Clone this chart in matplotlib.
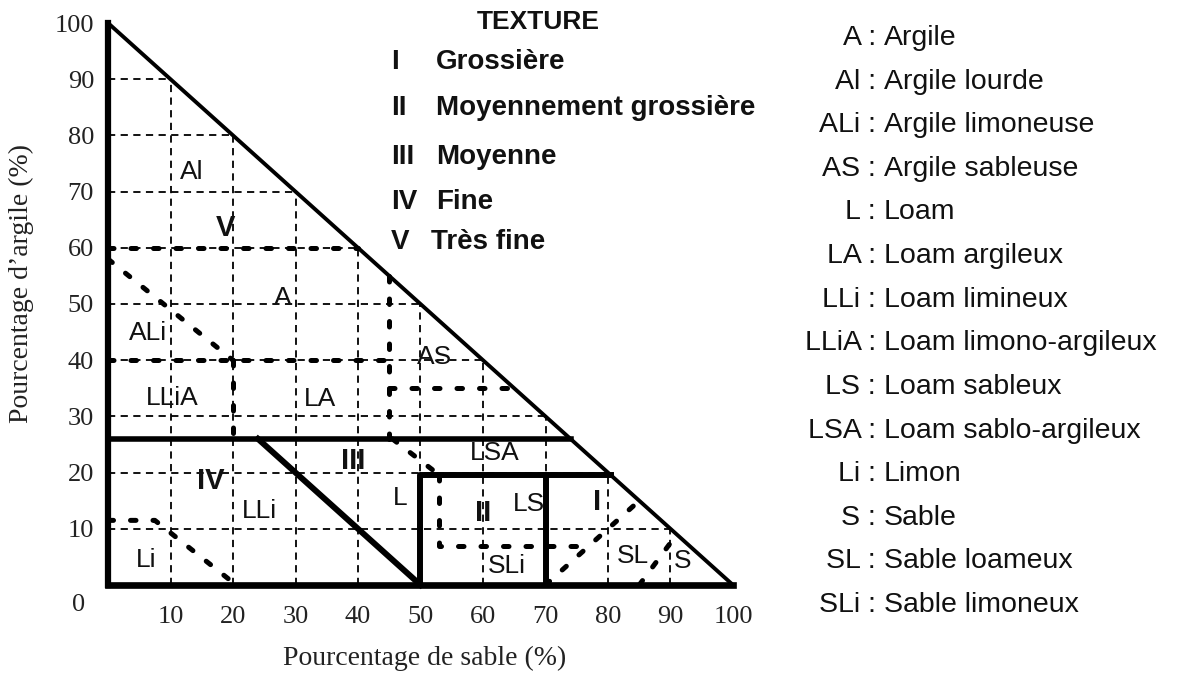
import matplotlib.pyplot as plt

W, H = 1194, 675

# axes ticks
sand_ticks = [10, 20, 30, 40, 50, 60, 70, 80, 90, 100]
clay_ticks = [10, 20, 30, 40, 50, 60, 70, 80, 90, 100]
grid_steps = [10, 20, 30, 40, 50, 60, 70, 80, 90]

# thick solid limits (sand %, clay %)
edge_sand = [0, 0, 100, 0]
edge_clay = [100, 0, 0, 100]
fine_sand = [0, 74]
fine_clay = [26, 26]
medium_sand = [24, 50]
medium_clay = [26, 0]
coarse_box_sand = [50, 50, 80.5]
coarse_box_clay = [0, 19.5, 19.5]
coarse_sand = [70, 70]
coarse_clay = [0, 19.5]

# dotted class limits (sand %, clay %)
class_limits = [
    ([0, 40], [60, 60]),
    ([0, 20], [58, 40]),
    ([0, 45], [40, 40]),
    ([20, 20], [40, 26]),
    ([45, 45], [26, 55]),
    ([45, 65], [35, 35]),
    ([0, 7.5, 20.5], [11.5, 11.5, 0]),
    ([45.5, 52.5], [26, 20]),
    ([53, 53, 77], [19.5, 7, 7]),
    ([70, 85], [0, 15]),
    ([85, 91], [0, 9]),
]

# classes inside the triangle
class_names = ["Al", "A", "ALi", "AS", "LLiA", "LA", "LSA", "L", "LS", "LLi", "SLi", "SL", "S", "Li"]
class_sand = [13.4, 28.0, 6.4, 52.2, 10.2, 34.0, 61.9, 46.7, 67.3, 24.3, 63.8, 84.0, 92.0, 6.1]
class_clay = [73.5, 51.0, 44.8, 40.6, 33.3, 33.1, 23.5, 15.4, 14.5, 13.1, 3.4, 5.2, 4.2, 4.5]

texture_marks = ["V", "IV", "III", "II", "I"]
texture_sand = [18.8, 16.5, 39.2, 60.0, 78.2]
texture_clay = [63.6, 18.5, 22.0, 12.8, 14.8]

# legends
texture_codes = ["I", "II", "III", "IV", "V"]
texture_names = ["Grossière", "Moyennement grossière", "Moyenne", "Fine", "Très fine"]
abbrevs = ["A", "Al", "ALi", "AS", "L", "LA", "LLi", "LLiA", "LS", "LSA", "Li", "S", "SL", "SLi"]
abbrev_names = ["Argile", "Argile lourde", "Argile limoneuse", "Argile sableuse", "Loam",
                "Loam argileux", "Loam limineux", "Loam limono-argileux", "Loam sableux",
                "Loam sablo-argileux", "Limon", "Sable", "Sable loameux", "Sable limoneux"]

SERIF = "Liberation Serif"
SANS = "Liberation Sans"
INK = "#111111"
AXIS_INK = "#222222"


def px(x, y):
    return x / W, 1 - y / H


fig = plt.figure(figsize=(W / 100, H / 100), dpi=100)
ax = fig.add_axes([108 / W, 90 / H, 625 / W, 562 / H])
ax.set_xlim(0, 100)
ax.set_ylim(0, 100)
for sp in ax.spines.values():
    sp.set_visible(False)

# thin dashed grid
for k in grid_steps:
    ax.plot([0, 100 - k], [k, k], color="black", lw=1.3, ls=(0, (4, 3)), clip_on=False)
    ax.plot([k, k], [0, 100 - k], color="black", lw=1.3, ls=(0, (4, 3)), clip_on=False)

# dotted class limits
for s, c in class_limits:
    ax.plot(s, c, color="black", lw=3.6, ls=(0, (1.1, 3.4)), dash_capstyle="round",
            clip_on=False)

# texture limits
ax.plot(edge_sand[2:], edge_clay[2:], color="black", lw=2.8, clip_on=False)
ax.plot(edge_sand[:2], edge_clay[:2], color="black", lw=4.5, clip_on=False,
        solid_capstyle="projecting")
ax.plot(edge_sand[1:3], edge_clay[1:3], color="black", lw=4.8, clip_on=False,
        solid_capstyle="projecting")
ax.plot(fine_sand, fine_clay, color="black", lw=4.0, clip_on=False)
ax.plot(medium_sand, medium_clay, color="black", lw=4.3, clip_on=False)
ax.plot(coarse_box_sand, coarse_box_clay, color="black", lw=4.3, clip_on=False)
ax.plot(coarse_sand, coarse_clay, color="black", lw=4.3, clip_on=False)

for name, s, c in zip(class_names, class_sand, class_clay):
    ax.text(s, c, name, ha="center", va="center", fontsize=19, family=SANS, color=INK)
for name, s, c in zip(texture_marks, texture_sand, texture_clay):
    ax.text(s, c, name, ha="center", va="center", fontsize=21, family=SANS,
            fontweight="bold", color=INK)

# ticks
ax.set_xticks(sand_ticks)
ax.set_yticks(clay_ticks)
ax.tick_params(length=0, labelsize=19, colors=AXIS_INK)
ax.tick_params(axis="x", pad=15)
ax.tick_params(axis="y", pad=10)
for lab in ax.get_xticklabels() + ax.get_yticklabels():
    lab.set_family(SERIF)
fig.text(*px(79, 605), "0", ha="center", va="center", fontsize=19, family=SERIF,
         color=AXIS_INK)

ax.set_xlabel("Pourcentage de sable (%)", fontsize=20, family=SERIF, color=AXIS_INK)
ax.xaxis.set_label_coords(0.506, -0.108)
ax.set_ylabel("Pourcentage d\u2019argile (%)", fontsize=20, family=SERIF, color=AXIS_INK)
ax.yaxis.set_label_coords(-0.118, 0.537)

# texture legend
fig.text(*px(538, 22), "TEXTURE", ha="center", va="center", fontsize=19, family=SANS,
         fontweight="bold", color=INK)
texture_rows = [62, 108, 157, 202, 242]
for code, name, y in zip(texture_codes, texture_names, texture_rows):
    fig.text(*px(391, y), code, ha="left", va="center", fontsize=20, family=SANS,
             fontweight="bold", color=INK)
    fig.text(*px(436 if code != "V" else 431, y), name, ha="left", va="center",
             fontsize=20, family=SANS, fontweight="bold", color=INK)

# abbreviation legend
n = len(abbrevs)
for i, (ab, name) in enumerate(zip(abbrevs, abbrev_names)):
    y = 38 + i * (605 - 38) / (n - 1)
    fig.text(*px(876, y), ab + " :", ha="right", va="center", fontsize=20.5, family=SANS,
             color=INK)
    fig.text(*px(884, y), name, ha="left", va="center", fontsize=20.5, family=SANS,
             color=INK)

fig.savefig("out.png", dpi=100)
